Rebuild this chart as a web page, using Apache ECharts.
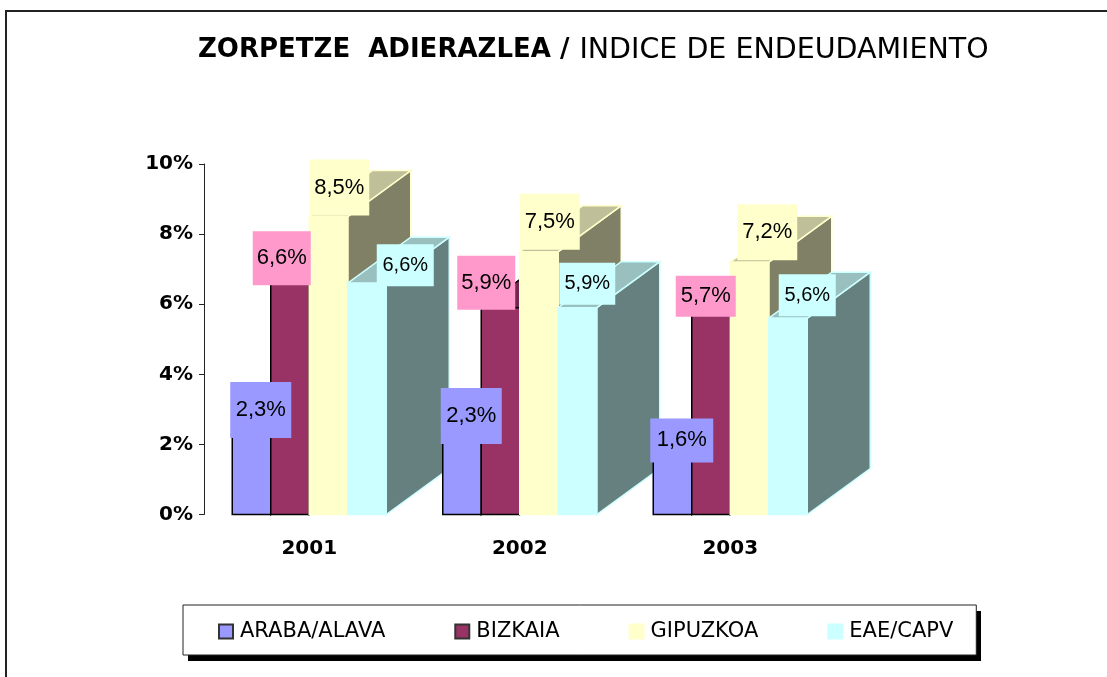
<!DOCTYPE html>
<html>
<head>
<meta charset="utf-8">
<style>
  html, body { margin: 0; padding: 0; background: #fff; }
  #chart { width: 1107px; height: 677px; }
</style>
<script src="https://cdn.jsdelivr.net/npm/echarts@6/dist/echarts.min.js"></script>
</head>
<body>
<div id="chart"></div>
<script>
const years = ['2001', '2002', '2003'];
const araba = [2.3, 2.3, 1.6];
const bizkaia = [6.6, 5.9, 5.7];
const gipuzkoa = [8.5, 7.5, 7.2];
const eae = [6.6, 5.9, 5.6];
const yTicks = { min: 0, max: 10, interval: 2 };

// depth of the fake 3D extrusion, in pixels
const DEPTH_X = 63;
const DEPTH_Y = -46;
const GROUP_RATIO = 154 / 210.5;

// label boxes, relative to the front top left corner of their bar: dx, dy of box bottom, w, h, font size
const arabaBoxes = [[-2, 4, 61, 56, 22], [-2, 10, 61, 56, 22], [-3, 4, 63, 44, 22]];
const bizkaiaBoxes = [[-18, 2, 58, 54, 22], [-24, 2, 58, 54, 22], [-16, 2, 60, 41, 22]];
const gipuzkoaBoxes = [[0, -1, 60, 56, 22], [0, -2, 60, 56, 22], [7, -2, 60, 56, 22]];
const eaeBoxes = [[29, 3, 57, 42, 20], [1, -3, 56, 42, 20], [10, -2, 57, 42, 20]];

const barStyles = [
  { name: 'ARABA/ALAVA', values: araba, boxes: arabaBoxes, color: '#9999ff', side: '#4d4d80', top: '#7373bf', edge: '#000000', box: '#9999ff' },
  { name: 'BIZKAIA', values: bizkaia, boxes: bizkaiaBoxes, color: '#993366', side: '#4d1a33', top: '#73264d', edge: '#000000', box: '#ff99cc' },
  { name: 'GIPUZKOA', values: gipuzkoa, boxes: gipuzkoaBoxes, color: '#ffffcc', side: '#808066', top: '#bfbf99', edge: '#ffffcc', box: '#ffffcc' },
  { name: 'EAE/CAPV', values: eae, boxes: eaeBoxes, color: '#ccffff', side: '#668080', top: '#99bfbf', edge: '#ccffff', box: '#ccffff' }
];

function makeRenderItem(idx) {
  const st = barStyles[idx];
  return function (params, api) {
    const cat = api.value(0);
    const val = api.value(1);
    const band = api.size([1, 0])[0];
    const groupW = band * GROUP_RATIO;
    const barW = groupW / barStyles.length;
    const base = api.coord([cat, 0]);
    const head = api.coord([cat, val]);
    const x0 = base[0] - groupW / 2 + barW * idx;
    const x1 = x0 + barW;
    const y0 = base[1];
    const y1 = head[1];
    const order = cat * 10 + idx;
    const line = { stroke: st.edge, lineWidth: 1.5 };

    const side = {
      type: 'polygon',
      z2: order,
      shape: { points: [[x1, y0], [x1 + DEPTH_X, y0 + DEPTH_Y], [x1 + DEPTH_X, y1 + DEPTH_Y], [x1, y1]] },
      style: Object.assign({ fill: st.side }, line)
    };
    const top = {
      type: 'polygon',
      z2: order,
      shape: { points: [[x0, y1], [x0 + DEPTH_X, y1 + DEPTH_Y], [x1 + DEPTH_X, y1 + DEPTH_Y], [x1, y1]] },
      style: Object.assign({ fill: st.top }, line)
    };
    const front = {
      type: 'rect',
      z2: order + 1,
      shape: { x: x0, y: y1, width: barW, height: y0 - y1 },
      style: Object.assign({ fill: st.color }, line)
    };

    const b = st.boxes[cat];
    const boxX = x0 + b[0];
    const boxY = y1 + b[1] - b[3];
    const labelBox = {
      type: 'rect',
      z2: 1000,
      shape: { x: boxX, y: boxY, width: b[2], height: b[3] },
      style: { fill: st.box }
    };
    const labelText = {
      type: 'text',
      z2: 1001,
      x: boxX + b[2] / 2,
      y: boxY + b[3] / 2,
      style: {
        text: String(val).replace('.', ',') + '%',
        fill: '#000',
        font: b[4] + 'px "Liberation Sans"',
        align: 'center',
        verticalAlign: 'middle'
      }
    };
    return { type: 'group', children: [side, top, front, labelBox, labelText] };
  };
}

const chart = echarts.init(document.getElementById('chart'));

chart.setOption({
  animation: false,
  backgroundColor: '#ffffff',
  title: {
    left: 198,
    top: 36,
    padding: 0,
    text: '{b|ZORPETZE  ADIERAZLEA /}  {n|INDICE DE ENDEUDAMIENTO}',
    textStyle: {
      rich: {
        b: { fontFamily: 'DejaVu Sans', fontWeight: 'bold', fontSize: 26, color: '#000' },
        n: { fontFamily: 'DejaVu Sans', fontWeight: 'normal', fontSize: 28.5, color: '#000' }
      }
    }
  },
  grid: { left: 204, top: 164, width: 631.5, height: 350.5 },
  xAxis: {
    type: 'category',
    data: years,
    axisLine: { show: false },
    axisTick: { show: false },
    axisLabel: {
      margin: 24,
      color: '#000',
      fontFamily: 'DejaVu Sans',
      fontWeight: 'bold',
      fontSize: 20
    }
  },
  yAxis: {
    type: 'value',
    min: yTicks.min,
    max: yTicks.max,
    interval: yTicks.interval,
    splitLine: { show: false },
    axisLine: { show: true, lineStyle: { color: '#222', width: 1 } },
    axisTick: { show: true, length: 5, lineStyle: { color: '#222', width: 1 } },
    axisLabel: {
      margin: 11,
      formatter: '{value}%',
      color: '#000',
      fontFamily: 'DejaVu Sans',
      fontWeight: 'bold',
      fontSize: 20
    }
  },
  legend: {
    left: 183,
    top: 605,
    icon: 'rect',
    itemWidth: 14,
    itemHeight: 14,
    itemGap: 69,
    padding: [16, 23, 13, 35],
    backgroundColor: '#fff',
    borderColor: '#222',
    borderWidth: 1,
    data: barStyles.map(s => s.name),
    selectedMode: false,
    textStyle: { fontFamily: 'DejaVu Sans', fontSize: 21, color: '#000', padding: [2, 0, 0, 2] }
  },
  graphic: [{
    type: 'polyline',
    silent: true,
    shape: { points: [[6, 677], [6, 11], [1107, 11]] },
    style: { stroke: '#222', lineWidth: 2, fill: null }
  }, {
    // legend drop shadow
    type: 'rect',
    silent: true,
    z: 0,
    shape: { x: 188, y: 611, width: 793, height: 50 },
    style: { fill: '#000' }
  }],
  series: barStyles.map((st, i) => ({
    type: 'custom',
    name: st.name,
    renderItem: makeRenderItem(i),
    itemStyle: { color: st.color, borderColor: st.edge === '#000000' ? '#333' : st.color, borderWidth: 1.5 },
    encode: { x: 0, y: 1 },
    data: st.values.map((v, c) => [c, v]),
    clip: false
  }))
});
</script>
</body>
</html>
